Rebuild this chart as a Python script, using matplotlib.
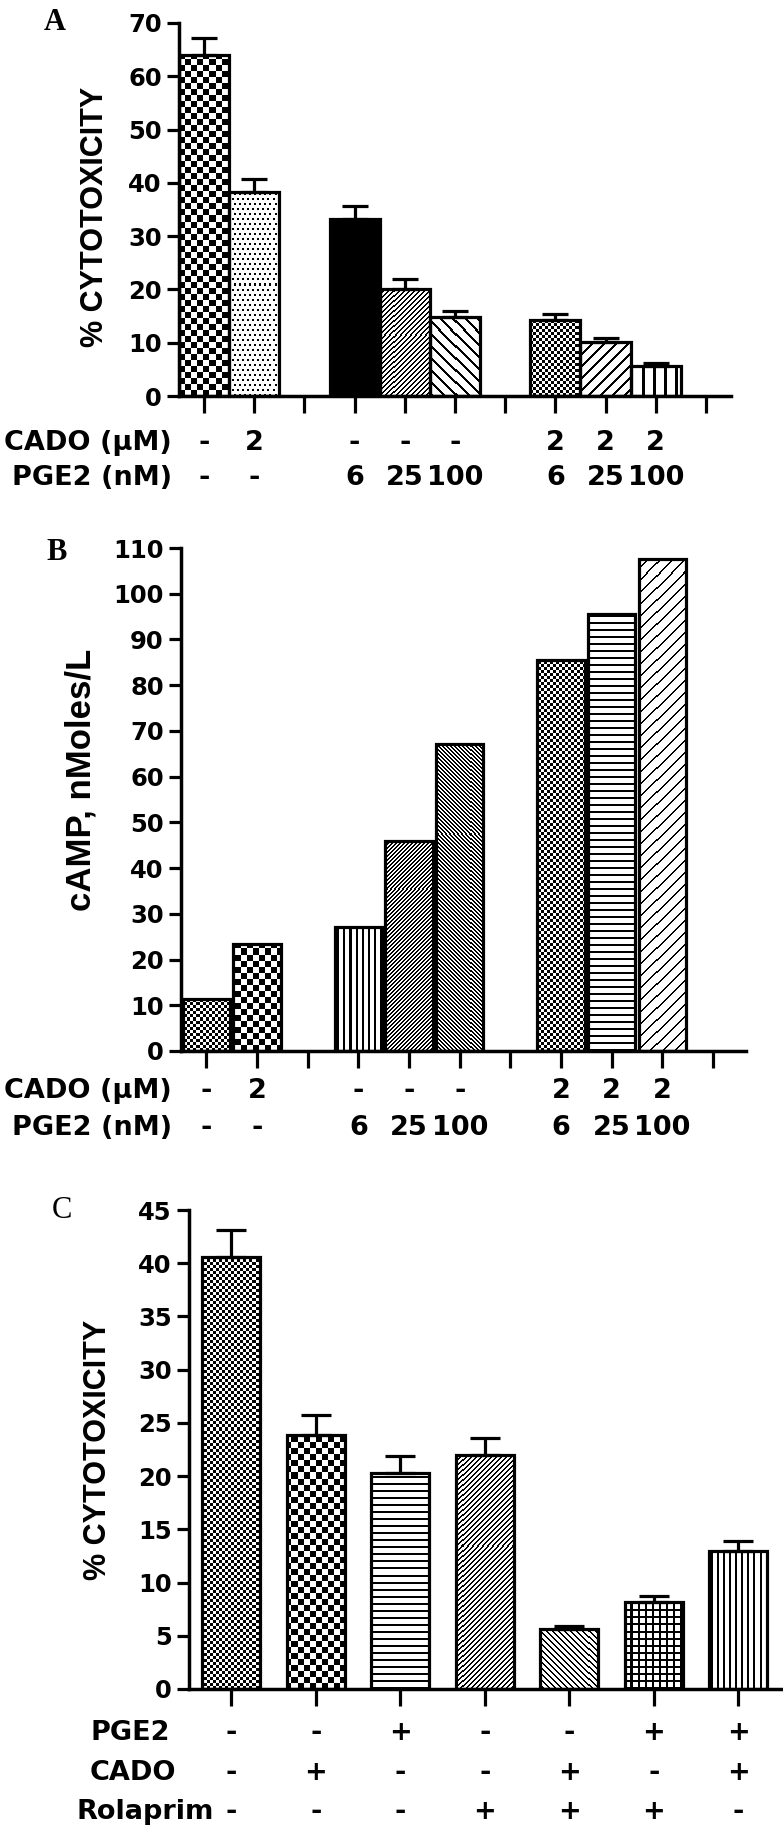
import numpy as np
import matplotlib
matplotlib.use('Agg')
import matplotlib.pyplot as plt

plt.rcParams['font.family'] = ['DejaVu Sans']
plt.rcParams['font.weight'] = 'bold'

# ---- data ----
# panel A: % cytotoxicity
a_pos = [0, 1, 3, 4, 5, 7, 8, 9]
a_means = [64.0, 38.3, 33.3, 20.1, 14.9, 14.3, 10.1, 5.7]
a_err = [3.1, 2.4, 2.3, 1.9, 1.0, 1.0, 0.7, 0.4]
a_cado = ['-', '2', '-', '-', '-', '2', '2', '2']
a_pge2 = ['-', '-', '6', '25', '100', '6', '25', '100']

# panel B: cAMP
b_pos = [0, 1, 3, 4, 5, 7, 8, 9]
b_means = [11.4, 23.5, 27.2, 46.0, 67.2, 85.5, 95.5, 107.7]
b_cado = ['-', '2', '-', '-', '-', '2', '2', '2']
b_pge2 = ['-', '-', '6', '25', '100', '6', '25', '100']

# panel C: % cytotoxicity with Rolaprim
c_pos = [0, 1, 2, 3, 4, 5, 6]
c_means = [40.6, 23.9, 20.3, 22.0, 5.6, 8.2, 13.0]
c_err = [2.5, 1.8, 1.6, 1.6, 0.3, 0.5, 0.9]
c_pge2 = ['-', '-', '+', '-', '-', '+', '+']
c_cado = ['-', '+', '-', '-', '+', '-', '+']
c_rola = ['-', '-', '-', '+', '+', '+', '-']

# fill patterns (kind, spacing px, line width px)
a_pats = [('checker', 6, 0), ('dots', 5, 1.2), ('solid', 0, 0), ('fwd', 5, 1.2),
          ('back', 12, 3), ('checker', 3, 0), ('fwd', 12, 2.5), ('vert', 11, 3)]
b_pats = [('checker', 3, 0), ('checker', 6, 0), ('vert', 6, 1.5), ('fwd', 4, 1.1),
          ('back', 4, 1.1), ('checker', 3, 0), ('horiz', 7, 1.5), ('fwd', 12, 2)]
c_pats = [('checker', 3, 0), ('checker', 6, 0), ('horiz', 7, 1.5), ('fwd', 5, 1.1),
          ('back', 6, 1.1), ('grid', 7, 1.5), ('vert', 6, 1.5)]

W, H = 783, 1830
fig = plt.figure(figsize=(W / 100, H / 100), dpi=100)
label_font = ['Liberation Sans', 'DejaVu Sans']


def px_axes(left, right, zero, top):
    return fig.add_axes([left / W, 1 - zero / H, (right - left) / W, (zero - top) / H])


def add_texture(ax, patch, kind, size, lw):
    bb = ax.get_window_extent()
    w, h = int(round(bb.width)), int(round(bb.height))
    yy, xx = np.mgrid[0:h, 0:w]
    if kind == 'solid':
        mask = np.ones((h, w), bool)
    elif kind == 'checker':
        mask = (xx // size + yy // size) % 2 == 0
    elif kind == 'dots':
        mask = ((xx + (yy // size % 2) * (size // 2)) % size < lw) & (yy % size < lw)
    elif kind == 'vert':
        mask = xx % size < lw
    elif kind == 'horiz':
        mask = yy % size < lw
    elif kind == 'fwd':
        mask = (xx - yy) % size < lw
    elif kind == 'back':
        mask = (xx + yy) % size < lw
    else:  # grid
        mask = (xx % size < lw) | (yy % size < lw)
    img = np.where(mask, 0.0, 1.0)
    x0, x1 = ax.get_xlim()
    y0, y1 = ax.get_ylim()
    im = ax.imshow(img, cmap='gray', vmin=0, vmax=1, origin='lower',
                   extent=(x0, x1, y0, y1), aspect='auto',
                   interpolation='nearest', zorder=2)
    im.set_clip_path(patch)


def draw_panel(ax, pos, means, pats, width, xlim, ylim, yticks, nticks,
               err=None, capsize=9):
    ax.set_xlim(*xlim)
    ax.set_ylim(*ylim)
    fills = ax.bar(pos, means, width, color='white', edgecolor='none', zorder=1)
    for patch, (kind, size, lw) in zip(fills, pats):
        add_texture(ax, patch, kind, size, lw)
    ax.bar(pos, means, width, fill=False, edgecolor='black', linewidth=2.3,
           joinstyle='miter', zorder=3)
    if err is not None:
        ax.errorbar(pos, means, yerr=[np.zeros(len(err)), err], fmt='none',
                    ecolor='black', elinewidth=2.3, capsize=capsize,
                    capthick=2.3, zorder=4)
    ax.set_xlim(*xlim)
    ax.set_ylim(*ylim)
    ax.set_yticks(yticks)
    ax.set_xticks(range(nticks))
    ax.tick_params(axis='y', length=8.5, width=2.3, pad=4, labelsize=17.5)
    ax.tick_params(axis='x', length=12, width=2.3, labelbottom=False)
    for s in ['top', 'right']:
        ax.spines[s].set_visible(False)
    for s in ['left', 'bottom']:
        ax.spines[s].set_linewidth(2.5)


def add_row(ax, y, name, name_x, values, pos, ha='right'):
    tr = ax.get_xaxis_transform()
    ax.text(name_x, y, name, transform=ax.transAxes, ha=ha, va='center', fontsize=19.5)
    for p, v in zip(pos, values):
        ax.text(p, y, v, transform=tr, ha='center', va='center', fontsize=19.5)


# ---- panel A ----
axA = px_axes(179, 731, 396, 23)
draw_panel(axA, a_pos, a_means, a_pats, 1.0, (-0.5, 10.5), (0, 70),
           range(0, 71, 10), 11, err=a_err, capsize=9.5)
axA.text(-0.152, 0.48, '% CYTOTOXICITY', transform=axA.transAxes, rotation=90,
         ha='center', va='center', fontsize=22, family=label_font)
add_row(axA, -0.126, 'CADO (μM)', -0.013, a_cado, a_pos)
add_row(axA, -0.220, 'PGE2 (nM)', -0.013, a_pge2, a_pos)

# ---- panel B ----
axB = px_axes(181, 746, 1051, 548)
draw_panel(axB, b_pos, b_means, b_pats, 0.93, (-0.5, 10.65), (0, 110),
           range(0, 111, 10), 11)
axB.text(-0.177, 0.539, 'cAMP, nMoles/L', transform=axB.transAxes, rotation=90,
         ha='center', va='center', fontsize=25, family=label_font)
add_row(axB, -0.0795, 'CADO (μM)', -0.016, b_cado, b_pos)
add_row(axB, -0.153, 'PGE2 (nM)', -0.016, b_pge2, b_pos)

# ---- panel C ----
axC = px_axes(189, 783, 1689, 1210)
draw_panel(axC, c_pos, c_means, c_pats, 0.69, (-0.5, 6.53), (0, 45),
           range(0, 46, 5), 7, err=c_err, capsize=11)
axC.text(-0.153, 0.5, '% CYTOTOXICITY', transform=axC.transAxes, rotation=90,
         ha='center', va='center', fontsize=22, family=label_font)
add_row(axC, -0.092, 'PGE2', -0.099, c_pge2, c_pos, ha='center')
add_row(axC, -0.175, 'CADO', -0.094, c_cado, c_pos, ha='center')
add_row(axC, -0.257, 'Rolaprim', -0.074, c_rola, c_pos, ha='center')

# panel letters
serif = ['Liberation Serif', 'DejaVu Serif']
fig.text(55 / W, 1 - 22 / H, 'A', ha='center', va='center', fontsize=22,
         family=serif, weight='bold')
fig.text(57 / W, 1 - 552 / H, 'B', ha='center', va='center', fontsize=22,
         family=serif, weight='bold')
fig.text(62 / W, 1 - 1210 / H, 'C', ha='center', va='center', fontsize=22,
         family=serif, weight='normal')

fig.savefig('out.png', dpi=100)
